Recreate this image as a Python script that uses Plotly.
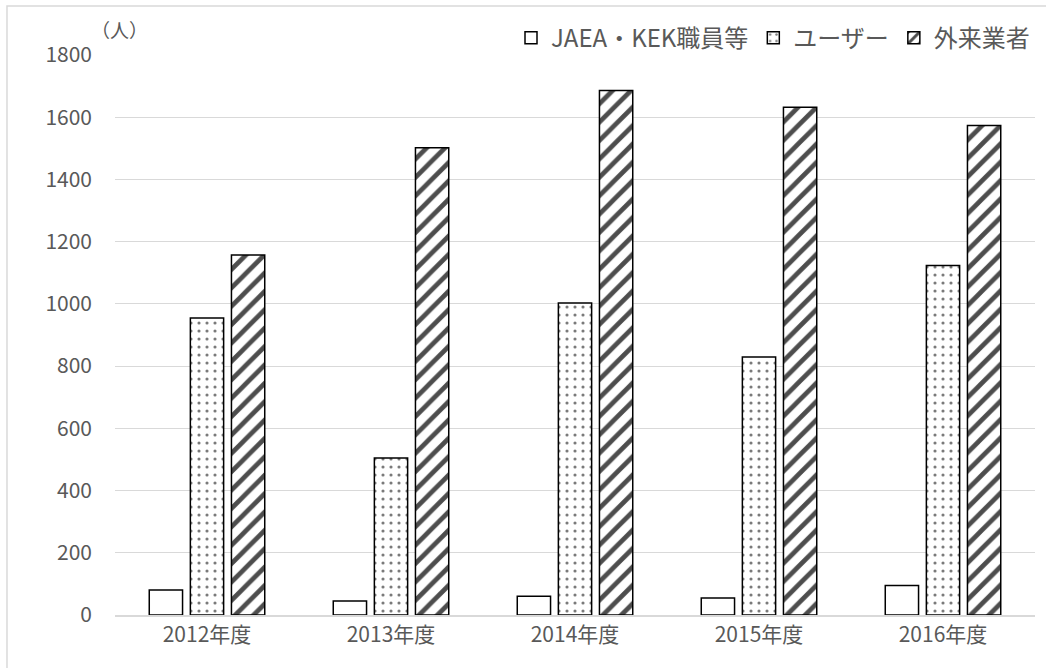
import plotly.graph_objects as go

years = ["2012年度", "2013年度", "2014年度", "2015年度", "2016年度"]
staff = [80, 45, 60, 55, 95]          # JAEA・KEK職員等
users = [955, 505, 1003, 829, 1123]   # ユーザー
vendors = [1157, 1502, 1686, 1632, 1573]  # 外来業者

FONT = "Noto Sans CJK JP"
GRAY = "#595959"

fig = go.Figure()
fig.add_trace(go.Bar(
    x=years, y=staff, name="JAEA・KEK職員等",
    marker=dict(color="white", line=dict(color="black", width=1.5)),
))
fig.add_trace(go.Bar(
    x=years, y=users, name="ユーザー",
    marker=dict(color="white", line=dict(color="black", width=1.5),
                pattern=dict(shape=".", fgcolor="#7a7a7a", bgcolor="white",
                             fgopacity=1, size=8, solidity=0.12)),
))
fig.add_trace(go.Bar(
    x=years, y=vendors, name="外来業者",
    marker=dict(color="white", line=dict(color="black", width=1.5),
                pattern=dict(shape="/", fgcolor="#4d4d4d", bgcolor="white",
                             fgopacity=1, size=13, solidity=0.36)),
))

fig.update_layout(
    width=1046, height=668,
    margin=dict(l=115, r=11, t=55, b=53),
    paper_bgcolor="white", plot_bgcolor="white",
    barmode="group", bargap=0.33, bargroupgap=0.19,
    font=dict(family=FONT, color=GRAY, size=16),
    showlegend=True,
    legend=dict(orientation="h", x=1.0, xanchor="right", y=1.03, yanchor="middle",
                font=dict(size=24, color=GRAY, family=FONT),
                itemwidth=30, tracegroupgap=0, bgcolor="rgba(0,0,0,0)"),
    xaxis=dict(showgrid=False, showline=True, linecolor="#d9d9d9", linewidth=1.5,
               ticks="", tickfont=dict(size=21, color=GRAY)),
    yaxis=dict(range=[0, 1800], dtick=200, showgrid=True, gridcolor="#d9d9d9",
               gridwidth=1, zeroline=False, showline=False, ticks="",
               ticklabelstandoff=22, tickfont=dict(size=21, color=GRAY)),
    annotations=[dict(text="（人）", xref="paper", yref="paper", x=0.005, y=1.045,
                      xanchor="center", yanchor="middle", showarrow=False,
                      font=dict(size=19, color=GRAY, family=FONT))],
    shapes=[dict(type="rect", xref="paper", yref="paper",
                 x0=-0.1174, x1=1.05, y0=-0.12, y1=1.0875,
                 line=dict(color="#d9d9d9", width=1.5), fillcolor="rgba(0,0,0,0)",
                 layer="below")],
)

fig.write_html("out.html")
